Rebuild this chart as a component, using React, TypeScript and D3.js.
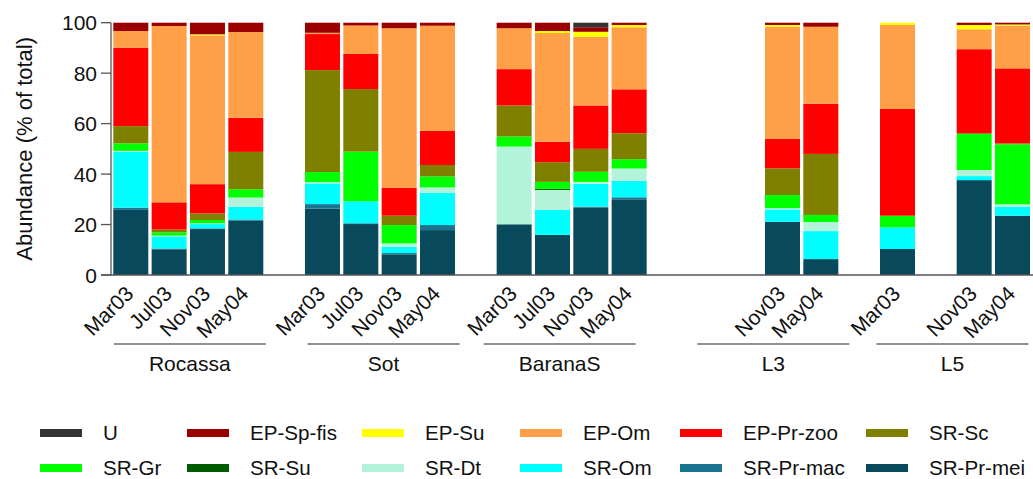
import React from "react";
import * as d3 from "d3";

// ---------- data ----------
const groups = ["Rocassa", "Sot", "BaranaS", "L3", "L5"];
const months = ["Mar03", "Jul03", "Nov03", "May04"];
// each bar: group index, month index
const barGroup = [0, 0, 0, 0, 1, 1, 1, 1, 2, 2, 2, 2, 3, 3, 4, 4, 4];
const barMonth = [0, 1, 2, 3, 0, 1, 2, 3, 0, 1, 2, 3, 2, 3, 0, 2, 3];

// series, stacked bottom -> top
const seriesKeys = [
  "SR-Pr-mei", "SR-Pr-mac", "SR-Om", "SR-Dt", "SR-Su", "SR-Gr",
  "SR-Sc", "EP-Pr-zoo", "EP-Om", "EP-Su", "EP-Sp-fis", "U",
];
const srPrMei = [25.8, 10.2, 18.2, 21.5, 26.3, 20.2, 8.2, 17.8, 20.1, 15.9, 26.8, 30.0, 21.1, 6.3, 10.3, 37.6, 23.5];
const srPrMac = [0.9, 0.3, 0.3, 0.5, 1.8, 0.3, 0.5, 2.0, 0, 0, 0.3, 0.8, 0, 0, 0, 0, 0];
const srOm = [22.2, 4.8, 1.7, 5.0, 8.2, 8.7, 2.5, 12.7, 0, 9.9, 9.0, 6.5, 4.9, 11.1, 8.6, 1.6, 3.6];
const srDt = [0.3, 0.3, 0.3, 3.7, 0.5, 0, 1.3, 2.2, 30.8, 7.9, 0.8, 4.9, 0.5, 3.6, 0, 2.4, 0.9];
const srSu = [0, 0, 0, 0, 0, 0, 0, 0, 0, 0.4, 0, 0, 0, 0, 0, 0, 0];
const srGr = [3.0, 1.3, 1.3, 3.3, 4.0, 19.7, 7.3, 4.4, 4.0, 2.8, 4.0, 3.7, 5.2, 2.8, 4.6, 14.3, 23.8];
const srSc = [6.8, 1.1, 2.6, 14.8, 40.4, 24.8, 3.7, 4.5, 12.3, 7.8, 9.1, 10.3, 10.6, 24.2, 0, 0.3, 0.4];
const epPrZoo = [31.1, 10.8, 11.6, 13.5, 14.3, 13.9, 11.1, 13.5, 14.4, 8.1, 17.2, 17.4, 11.6, 19.9, 42.3, 33.3, 29.7];
const epOm = [6.6, 69.9, 59.0, 34.0, 0.5, 11.3, 63.2, 41.7, 16.2, 43.1, 27.2, 24.6, 44.5, 30.5, 33.3, 7.9, 16.9];
const epSu = [0, 0, 0.4, 0, 0, 0, 0, 0, 0, 0.8, 2.0, 0.9, 0.7, 0, 0.9, 1.7, 0.5];
const epSpFis = [3.3, 1.3, 4.6, 3.7, 4.0, 1.1, 2.2, 1.2, 2.2, 3.3, 1.8, 0.9, 0.9, 1.6, 0, 0.9, 0.7];
const unknown = [0, 0, 0, 0, 0, 0, 0, 0, 0, 0, 1.8, 0, 0, 0, 0, 0, 0];
const seriesValues = [srPrMei, srPrMac, srOm, srDt, srSu, srGr, srSc, epPrZoo, epOm, epSu, epSpFis, unknown];

const yTicks = [0, 20, 40, 60, 80, 100];
const legendOrder = [
  "U", "EP-Sp-fis", "EP-Su", "EP-Om", "EP-Pr-zoo", "SR-Sc",
  "SR-Gr", "SR-Su", "SR-Dt", "SR-Om", "SR-Pr-mac", "SR-Pr-mei",
];

// ---------- styles / layout ----------
const colors: Record<string, string> = {
  "U": "#333333",
  "EP-Sp-fis": "#9b0000",
  "EP-Su": "#ffff00",
  "EP-Om": "#ffa048",
  "EP-Pr-zoo": "#ff0000",
  "SR-Sc": "#808000",
  "SR-Gr": "#00ff00",
  "SR-Su": "#005c00",
  "SR-Dt": "#b2f3da",
  "SR-Om": "#00ffff",
  "SR-Pr-mac": "#1a7591",
  "SR-Pr-mei": "#084a5c",
};
const W = 1033, H = 479;
const FONT = "'Liberation Sans', Arial, sans-serif";
const FS_TICK = 21;
const FS_TITLE = 22;
const FS_LEGEND = 20.6;
const axisX = 111;
const y0 = 275, y100 = 22.7;
const slotsPerGroup = 5; // 4 months + gap
const nSlots = 24;
const groupLineOffsets = [1.5, 3.5, -12, 10, -2.5];
const legendCols = [40, 187, 362, 520, 680, 866];
const legendRows = [433, 468];

export default function App() {
  const slotKeys = d3.range(nSlots).map(String);
  const x = d3.scaleBand<string>().domain(slotKeys).range([113.3, 1030]).paddingInner(0.087).paddingOuter(0);
  const y = d3.scaleLinear().domain([0, 100]).range([y0, y100]);

  const rows = barGroup.map((g, i) => {
    const r: any = { slot: String(g * slotsPerGroup + barMonth[i]) };
    seriesKeys.forEach((k, j) => (r[k] = seriesValues[j][i]));
    return r;
  });
  const stacked = d3.stack<any>().keys(seriesKeys)(rows);
  const bw = x.bandwidth();

  const groupCenter = (g: number) => {
    const a = x(String(g * slotsPerGroup))!;
    const b = x(String(g * slotsPerGroup + 3))! + bw;
    return (a + b) / 2;
  };

  return (
    <svg width={W} height={H} style={{ position: "absolute", left: 0, top: 0, background: "#fff" }}
      fontFamily={FONT}>
      {/* bars */}
      {stacked.map((s) => (
        <g key={s.key} fill={colors[s.key]}>
          {s.map((d, i) =>
            d[1] - d[0] > 0 ? (
              <rect key={i} x={x(d.data.slot)} width={bw} y={y(d[1])} height={y(d[0]) - y(d[1])} />
            ) : null
          )}
        </g>
      ))}
      {/* y axis */}
      <line x1={axisX} x2={axisX} y1={y(100)} y2={y(0)} stroke="#555" strokeWidth={1.3} />
      {yTicks.map((t) => (
        <g key={t}>
          <line x1={axisX - 10} x2={axisX} y1={y(t)} y2={y(t)} stroke="#555" strokeWidth={1.3} />
          <text x={97} y={y(t)} dy="0.36em" textAnchor="end" fontSize={FS_TICK} fill="#111">{t}</text>
        </g>
      ))}
      <text transform={`translate(32,${(y(0) + y(100)) / 2}) rotate(-90)`} textAnchor="middle" fontSize={FS_TITLE} fill="#111">
        Abundance (% of total)
      </text>
      {/* x axis */}
      <line x1={axisX - 10} x2={W} y1={y0} y2={y0} stroke="#555" strokeWidth={1.3} />
      {barGroup.map((g, i) => {
        const cx = x(String(g * slotsPerGroup + barMonth[i]))! + bw / 2 + 4;
        return (
          <text key={i} transform={`translate(${cx},295) rotate(-45)`} textAnchor="end" fontSize={FS_TICK} fill="#111">
            {months[barMonth[i]]}
          </text>
        );
      })}
      {groups.map((name, g) => {
        const c = groupCenter(g) + groupLineOffsets[g];
        return (
          <g key={name}>
            <line x1={c - 76} x2={c + 76} y1={344} y2={344} stroke="#222" strokeWidth={1} />
            <text x={c} y={371} textAnchor="middle" fontSize={FS_TICK} fill="#111">{name}</text>
          </g>
        );
      })}
      {/* legend */}
      {legendOrder.map((k, i) => {
        const cx = legendCols[i % 6];
        const cy = legendRows[Math.floor(i / 6)];
        return (
          <g key={k}>
            <rect x={cx} y={cy - 4} width={42} height={8} fill={colors[k]} />
            <text x={cx + 63} y={cy} dy="0.36em" fontSize={FS_LEGEND} fill="#111">{k}</text>
          </g>
        );
      })}
    </svg>
  );
}
